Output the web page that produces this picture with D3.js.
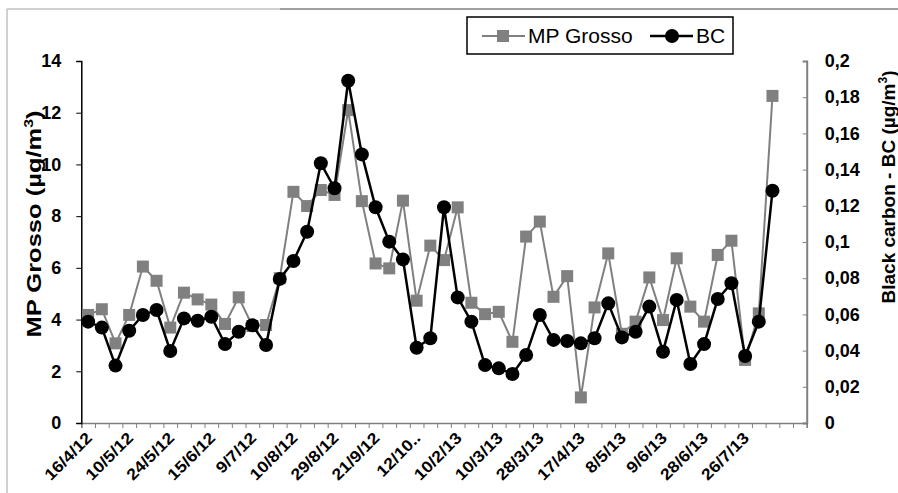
<!DOCTYPE html>
<html>
<head>
<meta charset="utf-8">
<script src="https://cdn.jsdelivr.net/npm/d3@7"></script>
<style>
  body { margin: 0; background: #fff; }
  svg { font-family: Arial, "Liberation Sans", sans-serif; }
</style>
</head>
<body>
<div id="chart"></div>
<script>
// Category labels (one every 3 categories, 53 categories on the axis)
const dateLabels = ["16/4/12", "10/5/12", "24/5/12", "15/6/12", "9/7/12", "10/8/12", "29/8/12",
  "21/9/12", "12/10..", "10/2/13", "10/3/13", "28/3/13", "17/4/13", "8/5/13", "9/6/13",
  "28/6/13", "26/7/13"];
const nCategories = 53;

// MP Grosso (ug/m3), left axis
const mpGrosso = [4.18, 4.40, 3.08, 4.18, 6.05, 5.50, 3.69, 5.04, 4.78, 4.58, 3.83, 4.86, 3.75,
  3.79, 5.60, 8.94, 8.39, 9.01, 8.82, 12.1, 8.58, 6.17, 5.98, 8.60, 4.73, 6.86, 6.30, 8.34,
  4.65, 4.21, 4.30, 3.14, 7.21, 7.79, 4.88, 5.68, 0.99, 4.47, 6.56, 3.45, 3.92, 5.63, 3.98,
  6.37, 4.50, 3.92, 6.50, 7.05, 2.44, 4.24, 12.65];

// Black carbon (ug/m3), right axis
const blackCarbon = [0.056, 0.0527, 0.0317, 0.051, 0.0597, 0.0624, 0.0398, 0.0578, 0.0565,
  0.0587, 0.0436, 0.0504, 0.054, 0.0431, 0.0796, 0.0895, 0.1057, 0.1435, 0.1297, 0.1891,
  0.1484, 0.1192, 0.1002, 0.0904, 0.0416, 0.0468, 0.1192, 0.0694, 0.056, 0.032, 0.0302,
  0.0271, 0.0376, 0.0597, 0.0459, 0.0453, 0.044, 0.0468, 0.0661, 0.0473, 0.0504, 0.0643,
  0.0394, 0.068, 0.0326, 0.0436, 0.0685, 0.0772, 0.037, 0.056, 0.1283];

const leftTicks = [0, 2, 4, 6, 8, 10, 12, 14];
const rightTicks = [0, 0.02, 0.04, 0.06, 0.08, 0.1, 0.12, 0.14, 0.16, 0.18, 0.2];

const W = 898, H = 493;
const plot = {left: 81.3, right: 806.7, top: 61, bottom: 423};

const svg = d3.select("#chart").append("svg")
    .attr("width", W)
    .attr("height", H);

// outer chart border (left + top)
svg.append("line").attr("x1", 7).attr("y1", 9).attr("x2", 7).attr("y2", H)
    .attr("stroke", "#c0c0c0").attr("stroke-width", 1.5);
svg.append("line").attr("x1", 7).attr("y1", 9).attr("x2", 280).attr("y2", 9)
    .attr("stroke", "#c0c0c0").attr("stroke-width", 1.5);
svg.append("line").attr("x1", 280).attr("y1", 9).attr("x2", W).attr("y2", 9)
    .attr("stroke", "#808080").attr("stroke-width", 1.5);

// scales
const x = d3.scaleBand()
    .domain(d3.range(nCategories))
    .range([plot.left, plot.right])
    .padding(0);
const xEdges = d3.scaleLinear()
    .domain([0, nCategories])
    .range([plot.left, plot.right]);
const yLeft = d3.scaleLinear().domain([0, 14]).range([plot.bottom, plot.top]);
const yRight = d3.scaleLinear().domain([0, 0.2]).range([plot.bottom, plot.top]);
const cx = i => x(i) + x.bandwidth() / 2;

// x axis: tick marks at category edges
svg.append("g")
    .attr("transform", `translate(0,${plot.bottom})`)
    .call(d3.axisBottom(xEdges).tickValues(d3.range(nCategories + 1)).tickSize(5).tickFormat(""))
    .call(g => g.select(".domain").attr("stroke", "#808080").attr("stroke-width", 1.5))
    .call(g => g.selectAll(".tick line").attr("stroke", "#808080"));

// x axis labels, every third category
svg.append("g")
    .attr("transform", `translate(0,${plot.bottom})`)
    .call(d3.axisBottom(x)
        .tickValues(d3.range(0, nCategories, 3).filter(i => i / 3 < dateLabels.length))
        .tickSize(0)
        .tickFormat(i => dateLabels[i / 3]))
    .call(g => g.select(".domain").remove())
    .call(g => g.selectAll("text")
        .attr("y", 0).attr("dy", 0)
        .attr("transform", "translate(5,16) rotate(-45) scale(1.12,1)")
        .style("text-anchor", "end")
        .attr("fill", "#000")
        .attr("font-size", "16px")
        .attr("font-weight", "bold"));

// left axis
svg.append("g")
    .attr("transform", `translate(${plot.left},0)`)
    .call(d3.axisLeft(yLeft).tickValues(leftTicks).tickSize(5).tickPadding(15))
    .call(g => g.select(".domain").attr("stroke", "#000").attr("stroke-width", 1.5))
    .call(g => g.selectAll("text").attr("font-size", "18px").attr("font-weight", "bold").attr("fill", "#000"));

// right axis
svg.append("g")
    .attr("transform", `translate(${plot.right},0)`)
    .call(d3.axisRight(yRight).tickValues(rightTicks).tickSize(-4).tickPadding(18)
        .tickFormat(d => String(+d.toFixed(2)).replace(".", ",")))
    .call(g => g.select(".domain").attr("stroke", "#808080").attr("stroke-width", 2))
    .call(g => g.selectAll(".tick line").attr("stroke", "#808080"))
    .call(g => g.selectAll("text").attr("font-size", "18px").attr("font-weight", "bold").attr("fill", "#000"));

// axis titles
const leftTitle = svg.append("text")
    .attr("transform", "translate(41,224) rotate(-90)")
    .attr("text-anchor", "middle")
    .attr("font-size", "21px")
    .attr("font-weight", "bold")
    .attr("textLength", 227)
    .attr("lengthAdjust", "spacingAndGlyphs");
leftTitle.append("tspan").text("MP  Grosso (µg/m");
leftTitle.append("tspan").attr("dy", -8).attr("font-size", "13px").text("3");
leftTitle.append("tspan").attr("dy", 8).text(")");

const rightTitle = svg.append("text")
    .attr("transform", "translate(895,187) rotate(-90)")
    .attr("text-anchor", "middle")
    .attr("font-size", "19px")
    .attr("font-weight", "bold")
    .attr("textLength", 233)
    .attr("lengthAdjust", "spacingAndGlyphs");
rightTitle.append("tspan").text("Black carbon - BC  (µg/m");
rightTitle.append("tspan").attr("dy", -8).attr("font-size", "12px").text("3");
rightTitle.append("tspan").attr("dy", 8).text(")");

// MP Grosso series
svg.append("path")
    .datum(mpGrosso)
    .attr("fill", "none")
    .attr("stroke", "#808080")
    .attr("stroke-width", 2)
    .attr("d", d3.line().x((d, i) => cx(i)).y(d => yLeft(d)));

svg.append("g")
    .selectAll("rect")
    .data(mpGrosso)
    .join("rect")
    .attr("x", (d, i) => cx(i) - 6)
    .attr("y", d => yLeft(d) - 6)
    .attr("width", 12)
    .attr("height", 12)
    .attr("fill", "#808080");

// BC series
svg.append("path")
    .datum(blackCarbon)
    .attr("fill", "none")
    .attr("stroke", "#000")
    .attr("stroke-width", 2.5)
    .attr("d", d3.line().x((d, i) => cx(i)).y(d => yRight(d)));

svg.append("g")
    .selectAll("circle")
    .data(blackCarbon)
    .join("circle")
    .attr("cx", (d, i) => cx(i))
    .attr("cy", d => yRight(d))
    .attr("r", 7)
    .attr("fill", "#000");

// legend
const legend = svg.append("g");
legend.append("rect")
    .attr("x", 467).attr("y", 17).attr("width", 266).attr("height", 37)
    .attr("fill", "#fff").attr("stroke", "#000").attr("stroke-width", 1.5);
legend.append("line").attr("x1", 482).attr("x2", 525).attr("y1", 36).attr("y2", 36)
    .attr("stroke", "#808080").attr("stroke-width", 2);
legend.append("rect").attr("x", 497).attr("y", 30).attr("width", 12).attr("height", 12)
    .attr("fill", "#808080");
legend.append("text").attr("x", 528).attr("y", 43).attr("font-size", "21px").text("MP Grosso");
legend.append("line").attr("x1", 650).attr("x2", 693).attr("y1", 36).attr("y2", 36)
    .attr("stroke", "#000").attr("stroke-width", 2.5);
legend.append("circle").attr("cx", 672).attr("cy", 36).attr("r", 7).attr("fill", "#000");
legend.append("text").attr("x", 696).attr("y", 43).attr("font-size", "21px").text("BC");
</script>
</body>
</html>
